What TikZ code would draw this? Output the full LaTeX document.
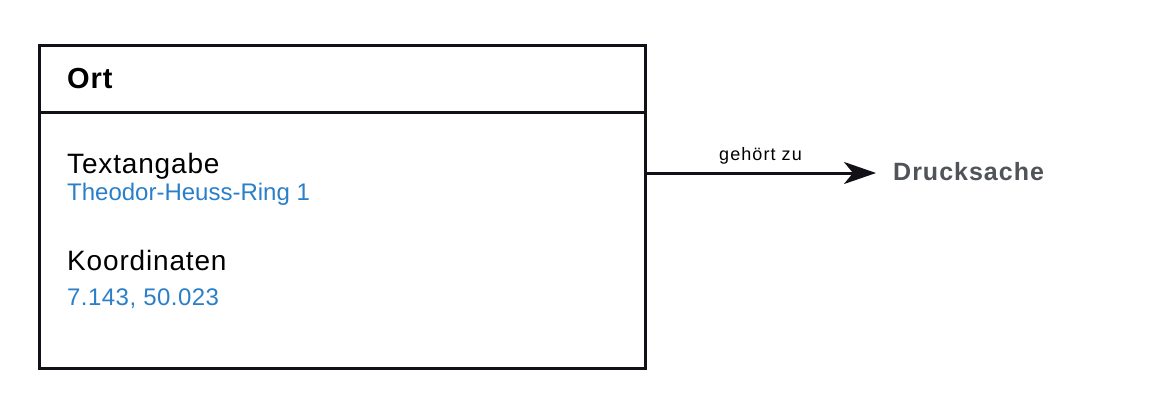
\documentclass[tikz,border=0pt]{standalone}
\usepackage{fontspec}
\setmainfont{Liberation Sans}
\usetikzlibrary{arrows.meta}
\definecolor{lineblack}{HTML}{141017}
\definecolor{valblue}{HTML}{2A7FC8}
\definecolor{refgray}{HTML}{505358}
\newfontfamily\wideA[LetterSpace=3.0]{Liberation Sans}
\newfontfamily\wideB[LetterSpace=1.9]{Liberation Sans}
\newfontfamily\wideC[LetterSpace=3.0]{Liberation Sans}
\newfontfamily\wideD[LetterSpace=4.0]{Liberation Sans}
\newfontfamily\wideE[LetterSpace=6.0]{Liberation Sans}
\tikzset{
  frame/.style={draw=lineblack, line width=3pt},
  attr/.style={anchor=base west, inner sep=0pt, font=\wideA\fontsize{28}{32}\selectfont, text=black},
  val/.style={anchor=base west, inner sep=0pt, font=\fontsize{24}{28}\selectfont, text=valblue},
}
\begin{document}
\begin{tikzpicture}[x=1pt,y=-1pt]
\useasboundingbox (0,0) rectangle (1169,413);
\draw[frame] (39,45) rectangle (645,368);
\draw[frame] (39,112) -- (645,112);
\node[anchor=base west, inner sep=0pt, font=\wideC\bfseries\fontsize{29}{33}\selectfont] (title) at (67,88) {Ort};
\node[attr] (a1) at (67,173) {Textangabe};
\node[val] (v1) at (67,200) {Theodor-Heuss-Ring 1};
\node[attr] (a2) at (67,270) {Koordinaten};
\node[val, font=\wideB\fontsize{24}{28}\selectfont] (v2) at (67,305) {7.143, 50.023};
\coordinate (src) at (645,173);
\node[anchor=base west, inner sep=0pt, font=\wideD\bfseries\fontsize{25}{29}\selectfont, text=refgray] (ds) at (893,180) {Drucksache};
\draw[lineblack, line width=3pt, -{Stealth[length=32pt, width=22pt, inset=9pt]}] (src) -- ([xshift=-17pt]ds.west |- src) node[midway, above=7pt, inner sep=0pt, font=\wideE\fontsize{18}{21}\selectfont, text=black] {gehört zu};
\end{tikzpicture}
\end{document}
